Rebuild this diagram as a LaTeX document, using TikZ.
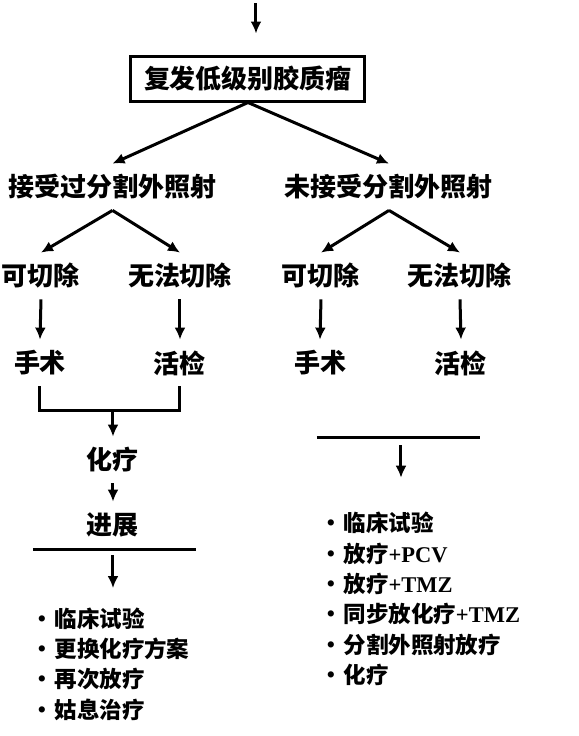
\documentclass[tikz,border=0pt]{standalone}
\usepackage{fontspec}
\setmainfont{Noto Sans CJK SC}
\newfontfamily\latfont{Liberation Serif}
\usepackage{tikz}
\usetikzlibrary{arrows.meta,positioning}
\tikzstyle{arr}=[-{Latex[length=6pt,width=5.5pt]},line width=1.5pt]
\tikzstyle{lbl}=[inner sep=0pt,minimum height=23pt,font=\fontsize{13pt}{15pt}\selectfont\bfseries]
\tikzstyle{plist}=[inner sep=0pt,align=left,font=\fontsize{11.25pt}{15.2pt}\selectfont\bfseries]
\newcommand*{\lt}[1]{{\latfont\bfseries #1}}
\newcommand*{\bul}{{\latfont\mdseries\fontsize{13pt}{15pt}\selectfont •}\hspace{4pt}}

\begin{document}
\begin{tikzpicture}[x=0.5pt,y=-0.5pt]
            \useasboundingbox (0,0) rectangle (579,736);
            \coordinate (top) at (256,3);
            \node[lbl,draw,line width=1.5pt,minimum width=117pt,minimum height=22.5pt] (glioma) at (248,78.5) {复发低级别胶质瘤};
            \draw[arr,shorten >=10.5pt] (top) -- (top |- glioma.north);
            % two branches
            \node[lbl] (rtyes) at (112.5,187) {接受过分割外照射};
            \node[lbl] (rtno) at (389,187) {未接受分割外照射};
            \draw[arr] (glioma.south) -- (rtyes.north);
            \draw[arr] (glioma.south) -- (rtno.north);
            % left branch
            \node[lbl] (resA) at (41,276) {可切除};
            \node[lbl] (unresA) at (180,276) {无法切除};
            \node[lbl] (surgA) at (40,363) {手术};
            \node[lbl] (biopA) at (180,363) {活检};
            \draw[arr] (rtyes.south) -- (resA.north);
            \draw[arr] (rtyes.south) -- (unresA.north);
            \draw[arr] (resA.south) -- (surgA.north);
            \draw[arr] (unresA.south) -- (biopA.north);
            \coordinate (joinA) at (113,410);
            \draw[line width=1.5pt] (surgA.south) |- (joinA) -| (biopA.south);
            \node[lbl] (chemo) at (113,460) {化疗};
            \node[lbl] (prog) at (113,525) {进展};
            \draw[arr] (joinA) -- (chemo.north);
            \draw[arr] (chemo.south) -- (prog.north);
            \draw[line width=1.5pt] (33,549) -- (196,549);
            \coordinate (outA) at (113,555);
            \node[plist,anchor=west] (listA) at (37,664) {\bul 临床试验\\\bul 更换化疗方案\\\bul 再次放疗\\\bul 姑息治疗};
            \draw[arr,shorten >=9.5pt] (outA) -- (outA |- listA.north);
            % right branch
            \node[lbl] (resB) at (321,276) {可切除};
            \node[lbl] (unresB) at (460,276) {无法切除};
            \node[lbl] (surgB) at (320,363) {手术};
            \node[lbl] (biopB) at (461,363) {活检};
            \draw[arr] (rtno.south) -- (resB.north);
            \draw[arr] (rtno.south) -- (unresB.north);
            \draw[arr] (resB.south) -- (surgB.north);
            \draw[arr] (unresB.south) -- (biopB.north);
            \draw[line width=1.5pt] (317,437) -- (480,437);
            \coordinate (outB) at (401,445);
            \node[plist,anchor=west] (listB) at (326,599) {\bul 临床试验\\\bul 放疗\lt{+PCV}\\\bul 放疗\lt{+TMZ}\\\bul 同步放化疗\lt{+TMZ}\\\bul 分割外照射放疗\\\bul 化疗};
            \draw[arr,shorten >=17pt] (outB) -- (outB |- listB.north);
        \end{tikzpicture}
\end{document}
